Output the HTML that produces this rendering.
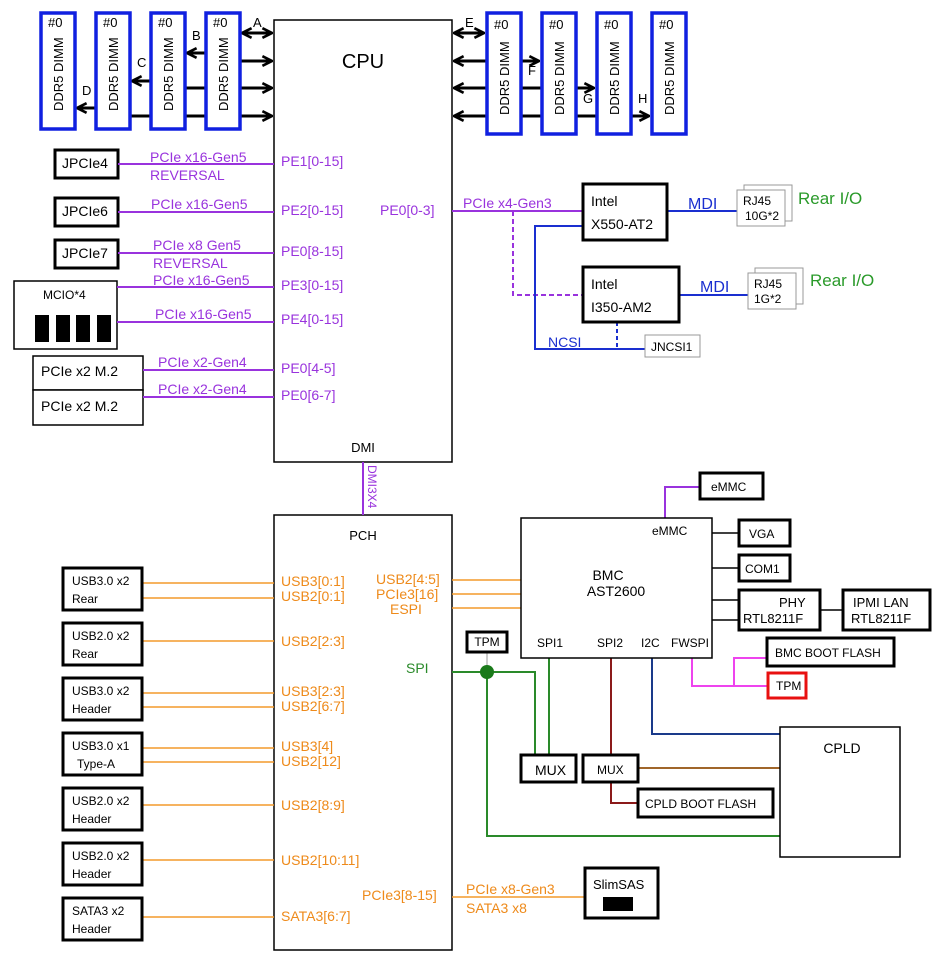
<!DOCTYPE html>
<html><head><meta charset="utf-8"><style>
body{margin:0;background:#fff;}
svg{display:block;font-family:"Liberation Sans",sans-serif;}
path{fill:none;}
</style></head><body>
<svg width="941" height="960" viewBox="0 0 941 960" xmlns="http://www.w3.org/2000/svg">
<defs>
<marker id="ah" viewBox="0 0 10 10" refX="9" refY="5" markerWidth="4" markerHeight="4" orient="auto-start-reverse"><path d="M1,1 L9,5 L1,9" fill="none" stroke="#000" stroke-width="2.2"/></marker>
</defs>
<g fill="none">
<rect x="274" y="20" width="178" height="442" stroke="#000" stroke-width="1.5" fill="#fff"/>
<rect x="274" y="515" width="178" height="435" stroke="#000" stroke-width="1.5" fill="#fff"/>
</g>
<text x="363" y="68" font-size="20" text-anchor="middle">CPU</text>
<text x="363" y="452" font-size="13" text-anchor="middle">DMI</text>
<text x="363" y="540" font-size="13" text-anchor="middle">PCH</text>

<g stroke="#000" stroke-width="3">
<line x1="242" y1="33" x2="272" y2="33" marker-start="url(#ah)" marker-end="url(#ah)"/>
<line x1="240" y1="61" x2="272" y2="61" marker-end="url(#ah)"/>
<line x1="185" y1="88" x2="272" y2="88" marker-end="url(#ah)"/>
<line x1="130" y1="116" x2="272" y2="116" marker-end="url(#ah)"/>
<line x1="205" y1="53" x2="187" y2="53" marker-end="url(#ah)"/>
<line x1="150" y1="81" x2="132" y2="81" marker-end="url(#ah)"/>
<line x1="95" y1="108" x2="77" y2="108" marker-end="url(#ah)"/>
<line x1="454" y1="33" x2="484" y2="33" marker-start="url(#ah)" marker-end="url(#ah)"/>
<line x1="454" y1="61" x2="486" y2="61" marker-start="url(#ah)"/>
<line x1="454" y1="88" x2="541" y2="88" marker-start="url(#ah)"/>
<line x1="454" y1="116" x2="596" y2="116" marker-start="url(#ah)"/>
<line x1="521" y1="61" x2="539" y2="61" marker-end="url(#ah)"/>
<line x1="576" y1="88" x2="594" y2="88" marker-end="url(#ah)"/>
<line x1="631" y1="116" x2="649" y2="116" marker-end="url(#ah)"/>
</g>
<g font-size="13">
<text x="253" y="27">A</text><text x="192" y="40">B</text><text x="137" y="67">C</text><text x="82" y="95">D</text>
<text x="465" y="27">E</text><text x="528" y="75">F</text><text x="583" y="103">G</text><text x="638" y="103">H</text>
</g>
<g stroke="#1020e0" stroke-width="3.5" fill="#fff">
<rect x="41" y="13" width="34" height="116"/><rect x="96" y="13" width="34" height="116"/>
<rect x="151" y="13" width="34" height="116"/><rect x="206" y="13" width="34" height="116"/>
<rect x="487" y="13" width="34" height="121"/><rect x="542" y="13" width="34" height="121"/>
<rect x="597" y="13" width="34" height="121"/><rect x="652" y="13" width="34" height="121"/>
</g>
<g font-size="13">
<text x="48" y="27">#0</text><text x="103" y="27">#0</text><text x="158" y="27">#0</text><text x="213" y="27">#0</text>
<text x="494" y="29">#0</text><text x="549" y="29">#0</text><text x="604" y="29">#0</text><text x="659" y="29">#0</text>
<text transform="translate(63,111) rotate(-90)">DDR5 DIMM</text>
<text transform="translate(118,111) rotate(-90)">DDR5 DIMM</text>
<text transform="translate(173,111) rotate(-90)">DDR5 DIMM</text>
<text transform="translate(228,111) rotate(-90)">DDR5 DIMM</text>
<text transform="translate(509,115) rotate(-90)">DDR5 DIMM</text>
<text transform="translate(564,115) rotate(-90)">DDR5 DIMM</text>
<text transform="translate(619,115) rotate(-90)">DDR5 DIMM</text>
<text transform="translate(674,115) rotate(-90)">DDR5 DIMM</text>
</g>

<g stroke="#000" stroke-width="3" fill="#fff">
<rect x="55" y="150" width="63" height="28"/><rect x="55" y="198" width="63" height="28"/><rect x="55" y="240" width="63" height="28"/>
</g>
<g stroke="#000" stroke-width="1.5" fill="#fff">
<rect x="14" y="281" width="103" height="68"/><rect x="33" y="356" width="110" height="34"/><rect x="33" y="390" width="110" height="35"/>
</g>
<g fill="#000"><rect x="35" y="315" width="14" height="27"/><rect x="56" y="315" width="14" height="27"/><rect x="76" y="315" width="14" height="27"/><rect x="97" y="315" width="14" height="27"/></g>
<g font-size="14">
<text x="62" y="168">JPCIe4</text><text x="62" y="216">JPCIe6</text><text x="62" y="258">JPCIe7</text>
<text x="41" y="376">PCIe x2 M.2</text><text x="41" y="411">PCIe x2 M.2</text>
</g>
<text x="43" y="299" font-size="12">MCIO*4</text>
<g stroke="#9933dd" stroke-width="2" fill="none">
<line x1="118" y1="164" x2="274" y2="164"/><line x1="118" y1="212" x2="274" y2="212"/><line x1="118" y1="253" x2="274" y2="253"/>
<line x1="117" y1="287" x2="274" y2="287"/><line x1="117" y1="322" x2="274" y2="322"/>
<line x1="143" y1="370" x2="274" y2="370"/><line x1="143" y1="397" x2="274" y2="397"/>
<line x1="452" y1="211" x2="582" y2="211"/><line x1="363" y1="462" x2="363" y2="515"/>
<path d="M513,211 V295 H582" stroke-dasharray="5,3"/>
<path d="M665,518 V487 H699"/>
</g>
<g font-size="14" fill="#9933dd">
<text x="150" y="162">PCIe x16-Gen5</text><text x="150" y="180">REVERSAL</text>
<text x="151" y="209">PCIe x16-Gen5</text>
<text x="153" y="250">PCIe x8 Gen5</text><text x="153" y="268">REVERSAL</text>
<text x="153" y="285">PCIe x16-Gen5</text>
<text x="155" y="319">PCIe x16-Gen5</text>
<text x="158" y="367">PCIe x2-Gen4</text><text x="158" y="394">PCIe x2-Gen4</text>
<text x="281" y="166">PE1[0-15]</text><text x="281" y="215">PE2[0-15]</text><text x="281" y="256">PE0[8-15]</text>
<text x="281" y="290">PE3[0-15]</text><text x="281" y="324">PE4[0-15]</text>
<text x="281" y="373">PE0[4-5]</text><text x="281" y="400">PE0[6-7]</text>
<text x="380" y="215">PE0[0-3]</text>
<text x="463" y="208">PCIe x4-Gen3</text>
<text transform="translate(368,465) rotate(90)" font-size="12">DMI3X4</text>
</g>

<g stroke="#1a2fd0" stroke-width="2" fill="none">
<path d="M582,226 H535 V349 H645"/>
<line x1="617" y1="322" x2="617" y2="349" stroke-dasharray="4,3"/>
<line x1="667" y1="211" x2="737" y2="211"/><line x1="679" y1="295" x2="748" y2="295"/>
</g>
<g stroke="#000" stroke-width="3" fill="#fff">
<rect x="583" y="184" width="84" height="56"/><rect x="583" y="267" width="96" height="55"/>
</g>
<g stroke="#999" stroke-width="1" fill="#fff">
<rect x="744" y="185" width="48" height="36"/><rect x="737" y="190" width="48" height="36"/>
<rect x="755" y="268" width="48" height="36"/><rect x="748" y="273" width="48" height="36"/>
<rect x="645" y="335" width="55" height="22"/>
</g>
<g font-size="14">
<text x="591" y="206">Intel</text><text x="591" y="229">X550-AT2</text>
<text x="591" y="289">Intel</text><text x="591" y="312">I350-AM2</text>
</g>
<g font-size="12"><text x="743" y="205">RJ45</text><text x="745" y="220">10G*2</text>
<text x="754" y="288">RJ45</text><text x="754" y="303">1G*2</text><text x="651" y="351">JNCSI1</text></g>
<g fill="#1a2fd0" font-size="16"><text x="688" y="209">MDI</text><text x="700" y="292">MDI</text><text x="548" y="347" font-size="14">NCSI</text></g>
<g fill="#2a9a2a" font-size="17"><text x="798" y="204">Rear I/O</text><text x="810" y="286">Rear I/O</text></g>

<g stroke="#f39a2b" stroke-width="1.5">
<line x1="142" y1="583" x2="274" y2="583"/><line x1="142" y1="598" x2="274" y2="598"/>
<line x1="142" y1="641" x2="274" y2="641"/>
<line x1="142" y1="693" x2="274" y2="693"/><line x1="142" y1="707" x2="274" y2="707"/>
<line x1="142" y1="748" x2="274" y2="748"/><line x1="142" y1="762" x2="274" y2="762"/>
<line x1="142" y1="805" x2="274" y2="805"/><line x1="142" y1="860" x2="274" y2="860"/>
<line x1="142" y1="917" x2="274" y2="917"/>
<line x1="452" y1="580" x2="521" y2="580"/><line x1="452" y1="594" x2="521" y2="594"/><line x1="452" y1="608" x2="521" y2="608"/>
<line x1="452" y1="897" x2="585" y2="897"/>
</g>
<g stroke="#000" stroke-width="3" fill="#fff">
<rect x="63" y="568" width="79" height="42"/><rect x="63" y="623" width="79" height="42"/><rect x="63" y="678" width="79" height="42"/>
<rect x="63" y="733" width="79" height="42"/><rect x="63" y="788" width="79" height="42"/><rect x="63" y="843" width="79" height="42"/>
<rect x="63" y="898" width="79" height="42"/>
</g>
<g font-size="12">
<text x="72" y="585">USB3.0 x2</text><text x="72" y="603">Rear</text>
<text x="72" y="640">USB2.0 x2</text><text x="72" y="658">Rear</text>
<text x="72" y="695">USB3.0 x2</text><text x="72" y="713">Header</text>
<text x="72" y="750">USB3.0 x1</text><text x="77" y="768">Type-A</text>
<text x="72" y="805">USB2.0 x2</text><text x="72" y="823">Header</text>
<text x="72" y="860">USB2.0 x2</text><text x="72" y="878">Header</text>
<text x="72" y="915">SATA3 x2</text><text x="72" y="933">Header</text>
</g>
<g font-size="14" fill="#ee8a1a">
<text x="281" y="586">USB3[0:1]</text><text x="281" y="601">USB2[0:1]</text>
<text x="281" y="646">USB2[2:3]</text>
<text x="281" y="696">USB3[2:3]</text><text x="281" y="711">USB2[6:7]</text>
<text x="281" y="751">USB3[4]</text><text x="281" y="766">USB2[12]</text>
<text x="281" y="810">USB2[8:9]</text><text x="281" y="865">USB2[10:11]</text>
<text x="281" y="921">SATA3[6:7]</text>
<text x="376" y="584">USB2[4:5]</text><text x="376" y="599">PCIe3[16]</text><text x="390" y="614">ESPI</text>
<text x="362" y="900">PCIe3[8-15]</text>
<text x="466" y="894">PCIe x8-Gen3</text><text x="466" y="913">SATA3 x8</text>
</g>
<text x="406" y="673" font-size="14" fill="#2a8a2a">SPI</text>

<line x1="487" y1="652" x2="487" y2="672" stroke="#bbb" stroke-width="1.5"/>
<g stroke="#2a8a2a" stroke-width="2" fill="none">
<path d="M452,672 H535 V755"/><path d="M549,658 V755"/><path d="M487,672 V836 H780"/>
</g>
<circle cx="487" cy="672" r="7" fill="#1a7a1a"/>
<path d="M611,658 V755 M611,782 V803 H637" stroke="#8b1a1a" stroke-width="2" fill="none"/>
<path d="M638,768 H780" stroke="#a0662a" stroke-width="2" fill="none"/>
<path d="M652,658 V734 H780" stroke="#1a3a8a" stroke-width="2" fill="none"/>
<path d="M692,658 V686 H767 M734,686 V658 H767" stroke="#ee44ee" stroke-width="2" fill="none"/>
<g stroke="#000" stroke-width="1.5" fill="none">
<path d="M712,533 H738 M712,568 H738 M712,600 H738 M712,620 H738 M820,610 H842"/>
</g>
<rect x="521" y="518" width="191" height="140" stroke="#000" stroke-width="1.5" fill="#fff"/>
<rect x="780" y="727" width="120" height="130" stroke="#000" stroke-width="1.5" fill="#fff"/>
<g stroke="#000" stroke-width="3" fill="#fff">
<rect x="467" y="632" width="40" height="20"/>
<rect x="700" y="473" width="63" height="26"/><rect x="739" y="520" width="51" height="26"/><rect x="739" y="555" width="51" height="26"/>
<rect x="739" y="590" width="81" height="40"/><rect x="843" y="590" width="87" height="40"/>
<rect x="767" y="638" width="127" height="28"/>
<rect x="521" y="755" width="55" height="27"/><rect x="583" y="755" width="55" height="27"/>
<rect x="638" y="789" width="135" height="28"/>
<rect x="585" y="868" width="73" height="50"/>
</g>
<rect x="768" y="673" width="38" height="25" stroke="#e81010" stroke-width="3" fill="#fff"/>
<rect x="603" y="897" width="30" height="14" fill="#000"/>
<g font-size="12">
<text x="487" y="646" text-anchor="middle">TPM</text>
<text x="652" y="535">eMMC</text>
<text x="537" y="647">SPI1</text><text x="597" y="647">SPI2</text><text x="641" y="647">I2C</text><text x="671" y="647">FWSPI</text>
<text x="711" y="491">eMMC</text><text x="749" y="538">VGA</text><text x="745" y="573">COM1</text>
<text x="779" y="607" font-size="13">PHY</text><text x="743" y="623" font-size="13">RTL8211F</text>
<text x="853" y="607" font-size="13">IPMI LAN</text><text x="851" y="623" font-size="13">RTL8211F</text>
<text x="775" y="657">BMC BOOT FLASH</text><text x="776" y="690">TPM</text>
<text x="597" y="774">MUX</text><text x="645" y="808">CPLD BOOT FLASH</text>
<text x="593" y="889" font-size="13">SlimSAS</text>
</g>
<text x="535" y="775" font-size="14">MUX</text>
<text x="608" y="580" font-size="14" text-anchor="middle">BMC</text>
<text x="616" y="596" font-size="14" text-anchor="middle">AST2600</text>
<text x="842" y="753" font-size="14" text-anchor="middle">CPLD</text>
</svg>
</body></html>
